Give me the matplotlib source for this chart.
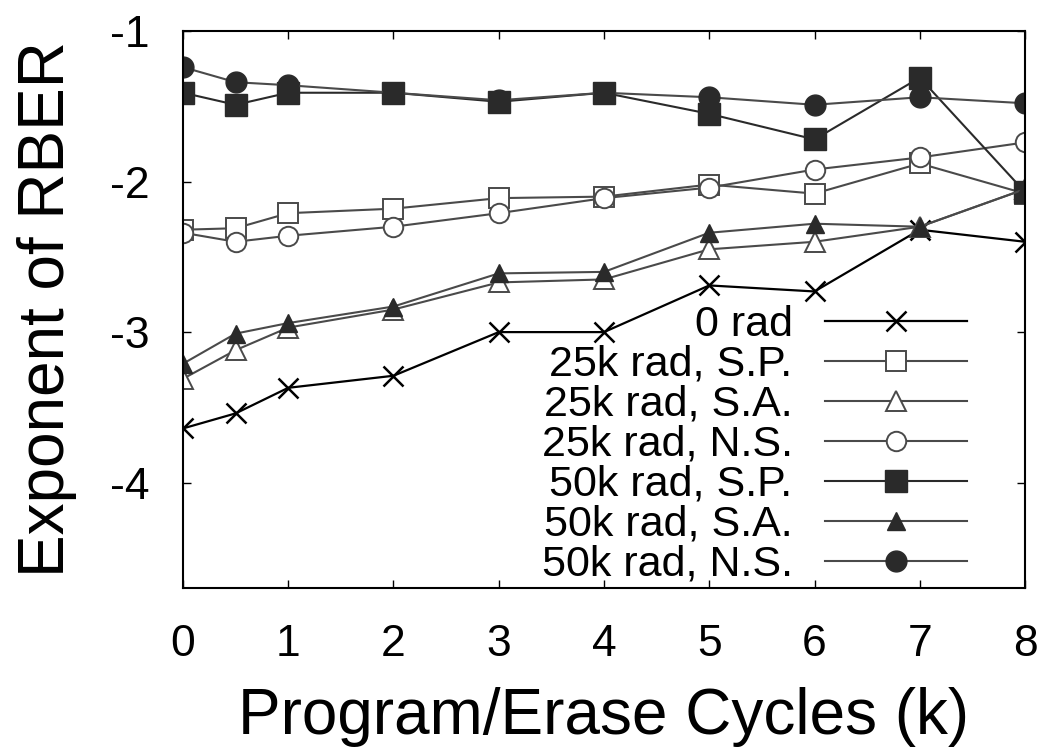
import matplotlib
matplotlib.use('Agg')
import matplotlib.pyplot as plt

plt.rcParams['font.family'] = ['Liberation Sans', 'DejaVu Sans']
plt.rcParams['axes.unicode_minus'] = False

# P/E cycles (k)
cycles = [0, 0.5, 1, 2, 3, 4, 5, 6, 7, 8]

# exponent of RBER
rad0 = [-3.64, -3.54, -3.37, -3.29, -3.00, -3.00, -2.69, -2.73, -2.32, -2.40]
r25_sp = [-2.32, -2.31, -2.21, -2.18, -2.11, -2.10, -2.02, -2.08, -1.88, -2.08]
r25_sa = [-3.31, -3.12, -2.97, -2.85, -2.67, -2.65, -2.45, -2.40, -2.30, -2.05]
r25_ns = [-2.34, -2.40, -2.36, -2.30, -2.21, -2.11, -2.04, -1.92, -1.84, -1.74]
r50_sp = [-1.41, -1.49, -1.41, -1.41, -1.47, -1.41, -1.55, -1.72, -1.31, -2.07]
r50_sa = [-3.21, -3.01, -2.94, -2.83, -2.61, -2.60, -2.34, -2.28, -2.30, -2.05]
r50_ns = [-1.24, -1.34, -1.36, -1.41, -1.46, -1.41, -1.44, -1.49, -1.44, -1.48]

labels = ['0 rad', '25k rad, S.P.', '25k rad, S.A.', '25k rad, N.S.',
          '50k rad, S.P.', '50k rad, S.A.', '50k rad, N.S.']

yticks = [-1, -2, -3, -4]
xticks = [0, 1, 2, 3, 4, 5, 6, 7, 8]

fig = plt.figure(figsize=(10.42, 7.53), dpi=100)
ax = fig.add_axes([0.1756, 0.2191, 0.8081, 0.7397])

dark = '#2a2a2a'
grey = '#4a4a4a'

ax.plot(cycles, rad0, color='black', lw=1.6, marker='x', ms=15, mew=1.8,
        label=labels[0])
ax.plot(cycles, r25_sp, color=grey, lw=1.5, marker='s', ms=14, mew=1.4,
        mfc='white', mec=grey, label=labels[1])
ax.plot(cycles, r25_sa, color=grey, lw=1.5, marker='^', ms=14, mew=1.4,
        mfc='white', mec=grey, label=labels[2])
ax.plot(cycles, r25_ns, color=grey, lw=1.5, marker='o', ms=14, mew=1.4,
        mfc='white', mec=grey, label=labels[3])
ax.plot(cycles, r50_sp, color=dark, lw=1.5, marker='s', ms=16,
        mfc=dark, mec=dark, label=labels[4])
ax.plot(cycles, r50_sa, color=grey, lw=1.5, marker='^', ms=13,
        mfc=dark, mec=dark, label=labels[5])
ax.plot(cycles, r50_ns, color=grey, lw=1.5, marker='o', ms=15,
        mfc=dark, mec=dark, label=labels[6])

ax.set_xlim(0, 8)
ax.set_ylim(-4.7, -1.0)
ax.set_xticks(xticks)
ax.set_yticks(yticks)
ax.tick_params(direction='in', length=6, width=1, top=True, right=True,
               labelsize=32, pad=24)
ax.tick_params(axis='x', pad=26)
for sp in ax.spines.values():
    sp.set_linewidth(1.5)

ax.set_xlabel('Program/Erase Cycles (k)', fontsize=46, labelpad=16)
ax.set_ylabel('Exponent of RBER', fontsize=46, labelpad=24)

ax.legend(loc='center right', bbox_to_anchor=(0.931, 0.257), frameon=False,
          markerfirst=False, fontsize=31, handlelength=3.3, handletextpad=0.75,
          labelspacing=0.0, borderpad=0, borderaxespad=0)

fig.savefig('out.png', dpi=100)
